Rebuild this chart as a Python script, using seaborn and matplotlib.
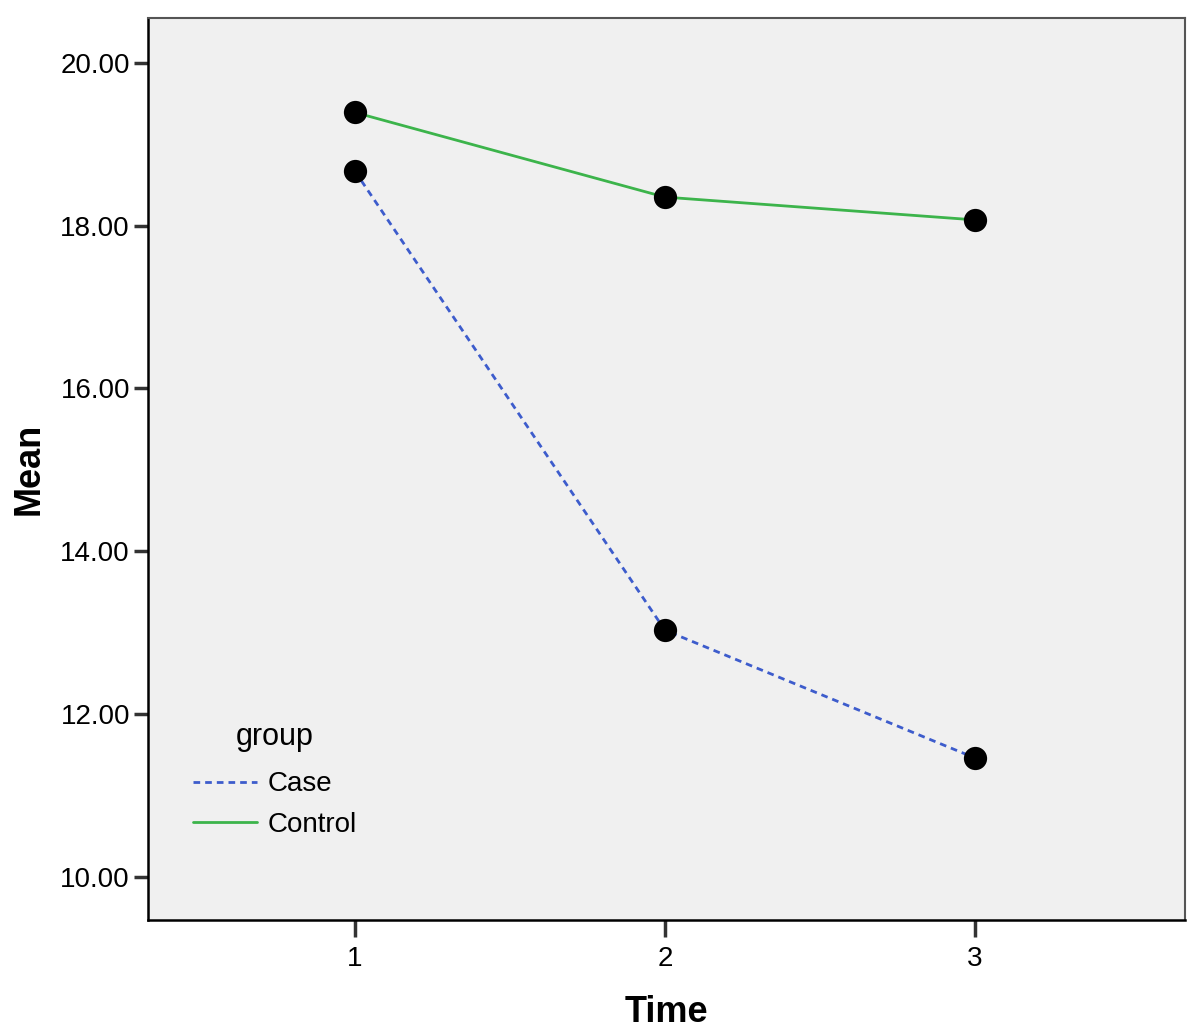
import matplotlib
matplotlib.use("Agg")
import matplotlib.pyplot as plt
import numpy as np
import pandas as pd
import seaborn as sns

# values
time_points = [1, 2, 3]
case_means = [18.67, 13.03, 11.46]
control_means = [19.39, 18.35, 18.07]
groups = ['Case', 'Control']
y_ticks = [10, 12, 14, 16, 18, 20]

df = pd.DataFrame({
    'Time': time_points * 2,
    'Mean': case_means + control_means,
    'group': ['Case'] * 3 + ['Control'] * 3,
})

sns.set_style('ticks')
plt.rcParams['font.family'] = ['Liberation Sans', 'DejaVu Sans']
plt.rcParams['text.color'] = 'black'
plt.rcParams['axes.labelcolor'] = 'black'

fig = plt.figure(figsize=(12, 10.35), dpi=100)
ax = fig.add_axes([0.1233, 0.1111, 0.8642, 0.8715])
ax.set_facecolor('#f0f0f0')

palette = {'Case': '#3d5ccc', 'Control': '#3cb44b'}
sns.lineplot(data=df, x='Time', y='Mean', hue='group', style='group',
             palette=palette, dashes={'Case': (2.4, 1.8), 'Control': ''},
             linewidth=2, ax=ax, legend=True)
sns.scatterplot(data=df, x='Time', y='Mean', color='black', s=280,
                edgecolor='black', linewidth=0, zorder=5, ax=ax, legend=False)

ax.set_xlim(0.333, 3.677)
ax.set_ylim(9.47, 20.55)
ax.set_xticks(time_points)
ax.set_xticklabels([str(t) for t in time_points])
ax.set_yticks(y_ticks)
ax.set_yticklabels([f'{v:.2f}' for v in y_ticks])
ax.tick_params(axis='both', labelsize=20, width=2.5, colors='#333333',
               labelcolor='black')
ax.tick_params(axis='y', length=10, pad=3)
ax.tick_params(axis='x', length=12, pad=7)

for side in ['left', 'bottom']:
    ax.spines[side].set_color('black')
    ax.spines[side].set_linewidth(1.8)
for side in ['top', 'right']:
    ax.spines[side].set_color('#555555')
    ax.spines[side].set_linewidth(1.5)

ax.set_xlabel('Time', fontsize=26, fontweight='bold', labelpad=16)
ax.set_ylabel('Mean', fontsize=26, fontweight='bold', labelpad=10)

handles, labels = ax.get_legend_handles_labels()
leg = ax.legend(handles=handles, labels=labels, title='group', frameon=False,
                loc='lower left', bbox_to_anchor=(0.019, 0.063),
                fontsize=20, title_fontsize=22, handlelength=2.3,
                handletextpad=0.4, labelspacing=0.53)
leg._legend_box.sep = 14

fig.savefig('out.png', dpi=100)
